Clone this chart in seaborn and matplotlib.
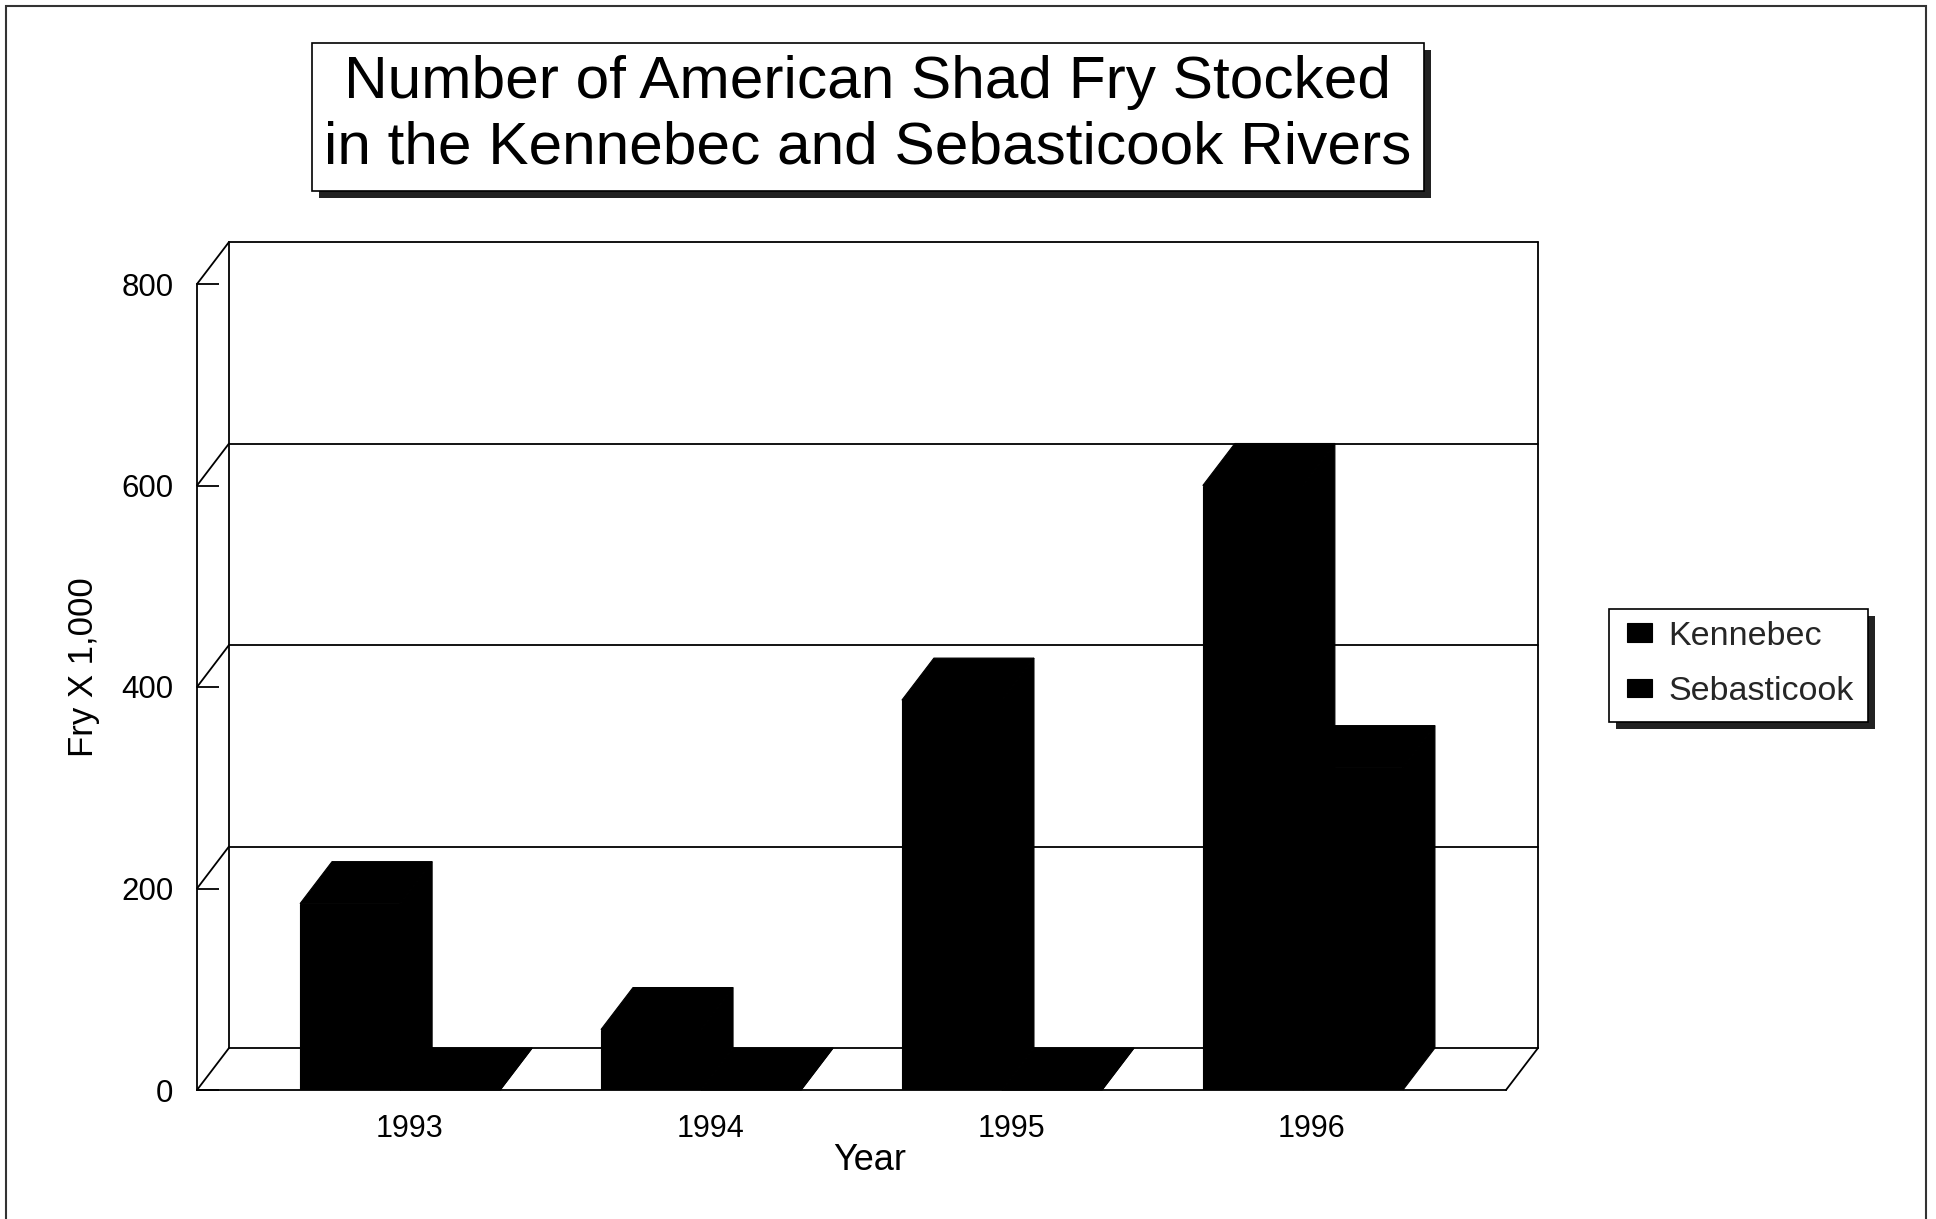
import numpy as np
import pandas as pd
import matplotlib
matplotlib.use('Agg')
import matplotlib.pyplot as plt
import seaborn as sns
from matplotlib.patches import Rectangle, Polygon
from matplotlib.lines import Line2D
from matplotlib.transforms import ScaledTranslation

# ---------------- data ----------------
years = ['1993', '1994', '1995', '1996']
kennebec = [185, 60, 387, 600]
sebasticook = [0, 0, 0, 320]
series_names = ['Kennebec', 'Sebasticook']
y_ticks = [0, 200, 400, 600, 800]
title_lines = ['Number of American Shad Fry Stocked',
               'in the Kennebec and Sebasticook Rivers']
x_label = 'Year'
y_label = 'Fry X 1,000'

df = pd.DataFrame({
    'Year': years * 2,
    'Fry': kennebec + sebasticook,
    'River': [series_names[0]] * len(years) + [series_names[1]] * len(years),
})

sns.set_theme(style='white')
plt.rcParams['font.family'] = ['Liberation Sans', 'DejaVu Sans']

W, H = 1936, 1219
fig = plt.figure(figsize=(W / 100, H / 100), dpi=100)
fig.patch.set_facecolor('white')


def fx(x):
    return x / W


def fy(y):
    return 1 - y / H


# front plane of the 3-D box, in pixels
L, R, T, B = 197, 1506, 284, 1090
ax = fig.add_axes([fx(L), fy(B), fx(R) - fx(L), fy(T) - fy(B)])
ax.set_facecolor('none')
XMIN, XMAX = -0.675, 3.675
YMAX = 800

sns.barplot(data=df, x='Year', y='Fry', hue='River',
            palette=['black', 'black'], width=0.665, saturation=1,
            linewidth=0.8, edgecolor='black', errorbar=None, ax=ax, zorder=3)
ax.set_xlim(XMIN, XMAX)
ax.set_ylim(0, YMAX)

# depth offset of the 3-D box
DX_PX, DY_PX = 32, 42
ddx = DX_PX * (XMAX - XMIN) / (R - L)
ddy = DY_PX * YMAX / (B - T)

LW = 1.3
line_kw = dict(color='black', lw=LW, clip_on=False, zorder=1)

# back wall, gridlines and side-wall diagonals
for v in y_ticks:
    ax.add_line(Line2D([XMIN + ddx, XMAX + ddx], [v + ddy, v + ddy], **line_kw))
    ax.add_line(Line2D([XMIN, XMIN + ddx], [v, v + ddy], **line_kw))
ax.add_line(Line2D([XMIN + ddx, XMIN + ddx], [ddy, YMAX + ddy], **line_kw))
ax.add_line(Line2D([XMAX + ddx, XMAX + ddx], [ddy, YMAX + ddy], **line_kw))
ax.add_line(Line2D([XMAX, XMAX + ddx], [0, ddy], **line_kw))

# 3-D faces of each bar (top + right side), derived from seaborn's bars
bars = [p for p in ax.patches if isinstance(p, Rectangle)]
for p in bars:
    x0 = p.get_x()
    w = p.get_width()
    h = p.get_height()
    x1 = x0 + w
    top = Polygon([(x0, h), (x1, h), (x1 + ddx, h + ddy), (x0 + ddx, h + ddy)],
                  closed=True, facecolor='black', edgecolor='black', lw=0.8,
                  clip_on=False, zorder=3)
    side = Polygon([(x1, 0), (x1, h), (x1 + ddx, h + ddy), (x1 + ddx, ddy)],
                   closed=True, facecolor='black', edgecolor='black', lw=0.8,
                   clip_on=False, zorder=3)
    ax.add_patch(top)
    ax.add_patch(side)

# spines / ticks
for s in ['top', 'right']:
    ax.spines[s].set_visible(False)
for s in ['left', 'bottom']:
    ax.spines[s].set_visible(True)
    ax.spines[s].set_color('black')
    ax.spines[s].set_linewidth(LW)
    ax.spines[s].set_zorder(2)

ax.set_yticks(y_ticks)
ax.set_yticklabels([str(v) for v in y_ticks])
ax.tick_params(axis='y', direction='in', length=16, width=LW, color='black',
               pad=17, labelsize=22.5, left=True, labelcolor='black')
ax.tick_params(axis='x', length=0, pad=17, labelsize=22, labelcolor='black')
for lab in ax.get_xticklabels():
    lab.set_transform(lab.get_transform() + ScaledTranslation(9 / 100, 0, fig.dpi_scale_trans))
ax.set_xlabel('')
ax.set_ylabel('')

# legend from seaborn handles
handles, labels = ax.get_legend_handles_labels()
if ax.get_legend() is not None:
    ax.get_legend().remove()

# legend box with shadow
SH = 7
fig.add_artist(Rectangle((fx(1609 + SH), fy(722 + SH)), (1868 - 1609) / W, (722 - 609) / H,
                         transform=fig.transFigure, facecolor='#222222', edgecolor='none', zorder=4))
fig.add_artist(Rectangle((fx(1609), fy(722)), (1868 - 1609) / W, (722 - 609) / H,
                         transform=fig.transFigure, facecolor='white', edgecolor='black',
                         lw=1.2, zorder=5))
leg = fig.legend(handles, labels, loc='center left', bbox_to_anchor=(fx(1627), fy(664)),
                 frameon=False, fontsize=24.5, handlelength=0.72, handleheight=0.45,
                 handletextpad=0.5, labelspacing=0.72, borderpad=0, borderaxespad=0)
leg.set_zorder(6)

# title box with shadow
tx0, tx1, ty0, ty1 = 312, 1424, 43, 191
fig.add_artist(Rectangle((fx(tx0 + SH), fy(ty1 + SH)), (tx1 - tx0) / W, (ty1 - ty0) / H,
                         transform=fig.transFigure, facecolor='#222222', edgecolor='none', zorder=4))
fig.add_artist(Rectangle((fx(tx0), fy(ty1)), (tx1 - tx0) / W, (ty1 - ty0) / H,
                         transform=fig.transFigure, facecolor='white', edgecolor='black',
                         lw=1.2, zorder=5))
fig.text(fx(868), fy(98), title_lines[0], ha='center', va='baseline', fontsize=43.5,
         color='black', zorder=6)
fig.text(fx(868), fy(164), title_lines[1], ha='center', va='baseline', fontsize=43.5,
         color='black', zorder=6)

# axis titles
fig.text(fx(870), fy(1161), x_label, ha='center', va='center', fontsize=26, color='black')
fig.text(fx(84), fy(667), y_label, ha='center', va='center', rotation=90, fontsize=25,
         color='black')

# outer frame of the page
fig.add_artist(Rectangle((fx(6), fy(1240)), (1926 - 6) / W, (1240 - 6) / H,
                         transform=fig.transFigure, facecolor='none', edgecolor='#333333',
                         lw=1.5, zorder=0, clip_on=False))

fig.savefig('out.png', dpi=100, facecolor='white')
